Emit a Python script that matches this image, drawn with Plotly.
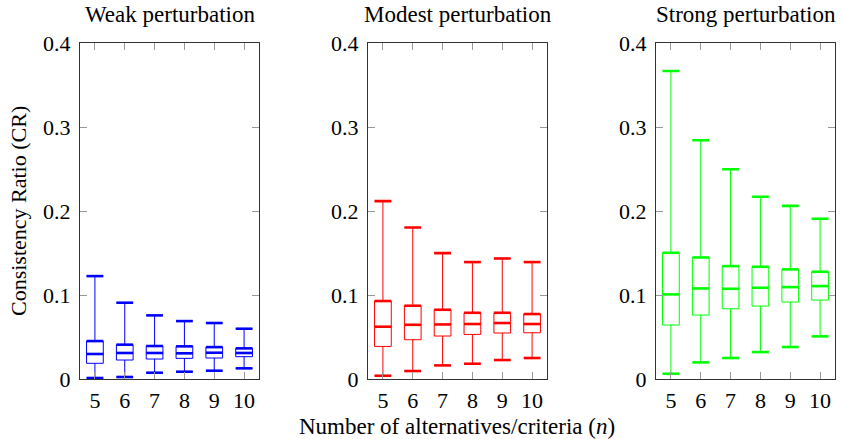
import plotly.graph_objects as go

ns = [5, 6, 7, 8, 9, 10]

weak_low = [0.0012, 0.0024, 0.0075, 0.0087, 0.0099, 0.0127]
weak_q1 = [0.0187, 0.0226, 0.0238, 0.0246, 0.0250, 0.0266]
weak_med = [0.0298, 0.0310, 0.0310, 0.0306, 0.0313, 0.0310]
weak_q3 = [0.0452, 0.0409, 0.0393, 0.0389, 0.0380, 0.0365]
weak_up = [0.1226, 0.0909, 0.0758, 0.0690, 0.0667, 0.0599]

mod_low = [0.0039, 0.0095, 0.0162, 0.0182, 0.0226, 0.0250]
mod_q1 = [0.0388, 0.0468, 0.0512, 0.0531, 0.0548, 0.0551]
mod_med = [0.0623, 0.0646, 0.0650, 0.0655, 0.0667, 0.0655]
mod_q3 = [0.0929, 0.0873, 0.0825, 0.0789, 0.0789, 0.0774]
mod_up = [0.2119, 0.1805, 0.1500, 0.1393, 0.1436, 0.1393]

str_low = [0.0063, 0.0198, 0.0250, 0.0321, 0.0381, 0.0508]
str_q1 = [0.0643, 0.0762, 0.0837, 0.0869, 0.0917, 0.0940]
str_med = [0.1008, 0.1079, 0.1075, 0.1087, 0.1095, 0.1107]
str_q3 = [0.1504, 0.1448, 0.1345, 0.1337, 0.1306, 0.1278]
str_up = [0.3670, 0.2845, 0.2500, 0.2171, 0.2063, 0.1909]

titles = ["Weak perturbation", "Modest perturbation", "Strong perturbation"]
colors = ["#0000ff", "#ff0000", "#00ff00"]
y_ticks = [0, 0.1, 0.2, 0.3, 0.4]
y_ticktext = ["0", "0.1", "0.2", "0.3", "0.4"]
x_title = "Number of alternatives/criteria (<i>n</i>)"
y_title = "Consistency Ratio (CR)"

panels = [
    (weak_low, weak_q1, weak_med, weak_q3, weak_up),
    (mod_low, mod_q1, mod_med, mod_q3, mod_up),
    (str_low, str_q1, str_med, str_q3, str_up),
]

FONT = "Liberation Serif"
W = 0.56
fig = go.Figure()

x_domains = [(80 / 842, 259 / 842), (368 / 842, 547 / 842), (656 / 842, 835 / 842)]
y_domain = (1 - 379 / 439, 1 - 43.3 / 439)

for i, (low, q1, med, q3, up) in enumerate(panels):
    xa = "x" if i == 0 else f"x{i+1}"
    ya = "y" if i == 0 else f"y{i+1}"
    c = colors[i]
    fig.add_trace(go.Box(
        x=ns, lowerfence=low, q1=q1, median=med, q3=q3, upperfence=up,
        width=W, whiskerwidth=1, line=dict(color=c, width=1),
        fillcolor="rgba(0,0,0,0)", xaxis=xa, yaxis=ya, showlegend=False,
        hoverinfo="skip",
    ))
    # thick lines: caps, median, upper quartile
    xs, ys = [], []
    for n, a, b, m, d in zip(ns, low, q3, med, up):
        for v in (a, b, m, d):
            xs += [n - W / 2, n + W / 2, None]
            ys += [v, v, None]
    fig.add_trace(go.Scatter(
        x=xs, y=ys, mode="lines", line=dict(color=c, width=2.6),
        xaxis=xa, yaxis=ya, showlegend=False, hoverinfo="skip",
    ))

axis_common = dict(
    showline=True, mirror="ticks", linecolor="#333333", linewidth=1,
    ticks="inside", ticklen=7, tickcolor="#999999", tickwidth=1,
    showgrid=False, zeroline=False,
    tickfont=dict(family=FONT, size=22, color="black"),
)

layout = dict(
    width=842, height=439,
    margin=dict(l=0, r=0, t=0, b=0, autoexpand=False),
    paper_bgcolor="white", plot_bgcolor="white",
    showlegend=False,
)
for i in range(3):
    sx = "xaxis" if i == 0 else f"xaxis{i+1}"
    sy = "yaxis" if i == 0 else f"yaxis{i+1}"
    ax_id = "y" if i == 0 else f"y{i+1}"
    axx_id = "x" if i == 0 else f"x{i+1}"
    layout[sx] = dict(axis_common, domain=list(x_domains[i]), range=[4.5, 10.5],
                      tickvals=ns, ticktext=[str(n) for n in ns], anchor=ax_id,
                      ticklabelstandoff=2)
    layout[sy] = dict(axis_common, domain=list(y_domain), range=[0, 0.4],
                      tickvals=y_ticks, ticktext=y_ticktext, anchor=axx_id,
                      ticklabelstandoff=4)

annotations = []
for i in range(3):
    annotations.append(dict(
        text=titles[i], x=(x_domains[i][0] + x_domains[i][1]) / 2, y=1 - 15 / 439,
        xref="paper", yref="paper", showarrow=False, xanchor="center", yanchor="middle",
        font=dict(family=FONT, size=23, color="black"),
    ))
annotations.append(dict(
    text=x_title, x=457 / 842, y=1 - 426 / 439, xref="paper", yref="paper",
    showarrow=False, xanchor="center", yanchor="middle",
    font=dict(family=FONT, size=23, color="black"),
))
annotations.append(dict(
    text=y_title, x=18 / 842, y=1 - 211 / 439, xref="paper", yref="paper",
    showarrow=False, xanchor="center", yanchor="middle", textangle=-90,
    font=dict(family=FONT, size=22, color="black"),
))
layout["annotations"] = annotations
fig.update_layout(**layout)
fig.write_html(
    "out.html",
    config={"displayModeBar": False, "staticPlot": True},
    post_script="document.body.style.margin='0';document.body.style.overflow='hidden';",
)
